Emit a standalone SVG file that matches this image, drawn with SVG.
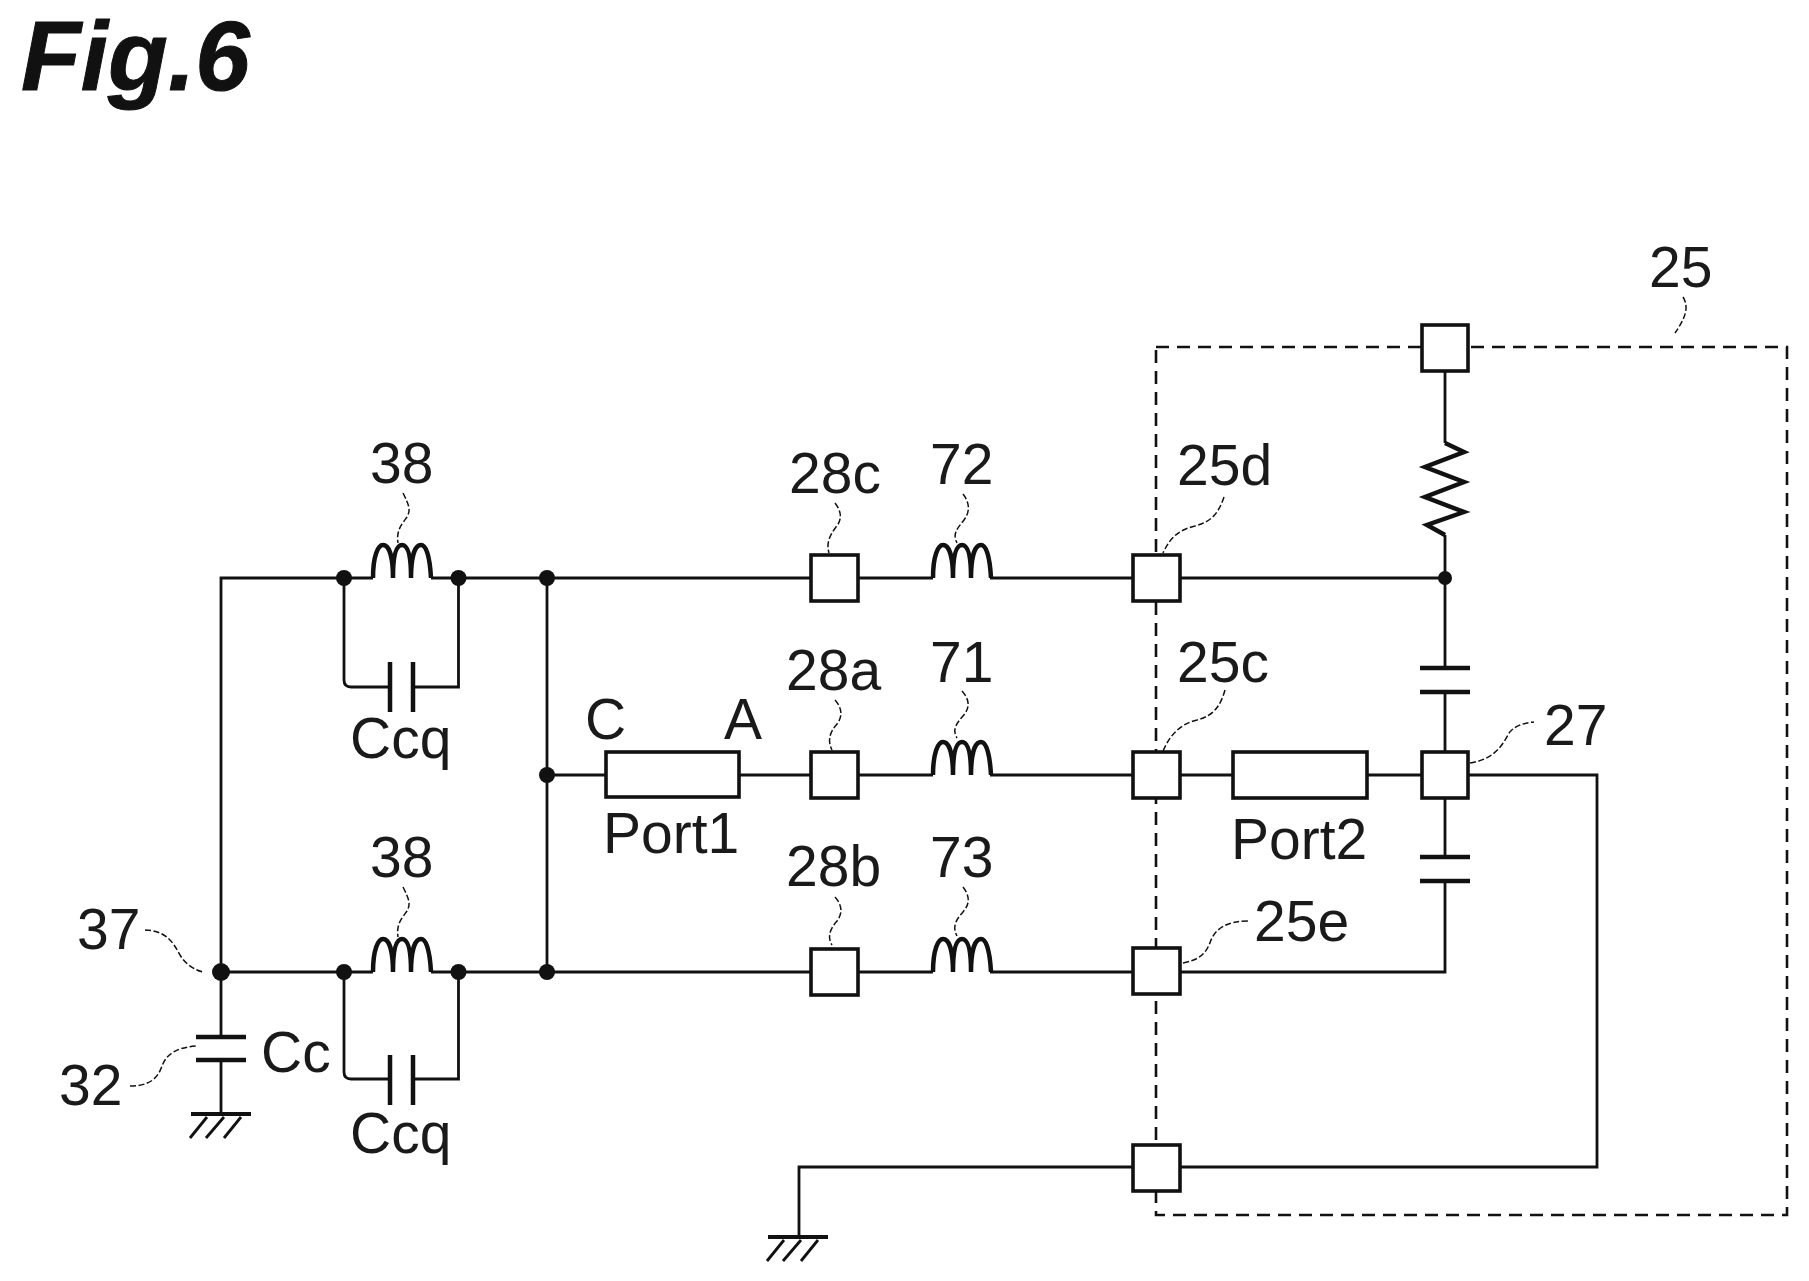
<svg xmlns="http://www.w3.org/2000/svg" xmlns:xlink="http://www.w3.org/1999/xlink" width="1809" height="1281" viewBox="0 0 1809 1281">
<style>
text{font-family:"Liberation Sans",Arial,sans-serif;font-size:57px;fill:#1a1a1a}
.title{font-weight:bold;font-style:italic;font-size:98px;fill:#111;stroke:#111;stroke-width:1}
.w{fill:none;stroke:#111;stroke-width:2.8}
.th{fill:none;stroke:#111;stroke-width:4.5}
.lead{fill:none;stroke:#111;stroke-width:1.5;stroke-dasharray:6 2.5}
.box{fill:none;stroke:#111;stroke-width:2.6;stroke-dasharray:13 8}
.term{fill:#fff;stroke:#111;stroke-width:3.6}
.dot{fill:#111}
</style>
<defs>
<path id="coil" class="th" d="M0 0C0 -22 5 -33 10 -33C17 -33 20 -18 20 0C20 -18 22 -33 29 -33C36 -33 38 -18 38 0C38 -18 41 -33 48 -33C54 -33 57 -18 58 0"/>
<g id="gnd" class="w"><path d="M-30 0H30" stroke-width="4"/><path d="M-14 3L-31 24M3 3L-15 24M20 3L3 24"/></g>
</defs>
<rect width="1809" height="1281" fill="#fff"/>
<text class="title" x="21" y="90">Fig.6</text>
<g id="enclosure-25"><rect class="box" x="1156" y="347" width="631" height="868"/><text x="1649" y="287">25</text></g>
<g id="connectors">
<path class="w" d="M373 578H221V1037M431 578H933M990 578H1445M221 972H373M431 972H933M990 972H1445V881M547 578V972M547 775H606M739 775H933M990 775H1233M1367 775H1421M1468 775H1597V1167H799V1237M1445 371V443M1445 535V668M1445 692V857M221 1060V1113"/>
<path class="w" d="M344 578V680Q344 687 351 687H390M413 687H458.5V578M344 972V1072Q344 1079 351 1079H390M413 1079H458.5V972"/>
<path class="lead" d="M403 493C409 505 411 510 407 517C402 524 396 530 398 543"/>
<path class="lead" d="M403 887C409 899 411 904 407 911C402 918 396 924 398 937"/>
<path class="lead" d="M145 930C165 931 172 940 180 955C186 965 195 970 203 972"/>
<path class="lead" d="M130 1086C150 1086 158 1078 162 1066C167 1052 180 1047 197 1046"/>
<path class="lead" d="M835 503C842 512 842 520 836 527C830 535 826 543 829 553"/>
<path class="lead" d="M963 494C970 503 970 512 964 520C958 528 952 533 957 543"/>
<path class="lead" d="M835 700C842 708 843 716 837 724C830 732 827 740 832 750"/>
<path class="lead" d="M962 691C970 700 970 708 963 716C956 724 952 730 957 738"/>
<path class="lead" d="M835 897C842 905 843 913 837 921C830 929 827 937 832 945"/>
<path class="lead" d="M963 887C970 896 970 904 963 912C956 920 952 926 957 936"/>
<path class="lead" d="M1224 497C1218 515 1210 522 1195 526C1178 530 1170 538 1163 553"/>
<path class="lead" d="M1225 690C1220 708 1212 716 1197 720C1180 724 1170 735 1163 751"/>
<path class="lead" d="M1183 963C1198 960 1206 955 1211 940C1216 928 1228 921 1248 921"/>
<path class="lead" d="M1470 763C1490 760 1500 750 1508 735C1512 727 1522 723 1534 722"/>
<path class="lead" d="M1683 297C1690 308 1684 320 1675 333"/>
</g>
<g id="node-37"><circle class="dot" cx="221" cy="972" r="9"/><text x="77" y="949">37</text></g>
<g id="junctions">
<circle class="dot" cx="344" cy="578" r="8"/><circle class="dot" cx="458.5" cy="578" r="8"/><circle class="dot" cx="547" cy="578" r="8"/><circle class="dot" cx="547" cy="775" r="8"/><circle class="dot" cx="344" cy="972" r="8"/><circle class="dot" cx="458.5" cy="972" r="8"/><circle class="dot" cx="547" cy="972" r="8"/><circle class="dot" cx="1445" cy="578" r="7"/>
</g>
<g id="inductor-38-top"><use xlink:href="#coil" href="#coil" x="373" y="578"/><text x="370" y="483">38</text></g>
<g id="inductor-38-bottom"><use xlink:href="#coil" href="#coil" x="373" y="972"/><text x="370" y="877">38</text></g>
<g id="capacitor-ccq-top"><path class="th" d="M390 662V712M413 662V712"/><text x="350" y="758">Ccq</text></g>
<g id="capacitor-ccq-bottom"><path class="th" d="M390 1055V1105M413 1055V1105"/><text x="350" y="1153">Ccq</text></g>
<g id="capacitor-32"><path class="th" d="M196 1037H246M196 1060H246"/><text x="59" y="1105">32</text><text x="261" y="1072">Cc</text></g>
<g id="ground-left"><use xlink:href="#gnd" href="#gnd" x="221" y="1114"/></g>
<g id="ground-bottom"><use xlink:href="#gnd" href="#gnd" x="798" y="1237"/></g>
<g id="port1"><rect class="term" x="606" y="752" width="133" height="45"/><text x="585" y="739">C</text><text x="724" y="739">A</text><text x="603" y="853">Port1</text></g>
<g id="port2"><rect class="term" x="1233" y="752" width="134" height="46"/><text x="1231" y="859">Port2</text></g>
<g id="terminal-28c"><rect class="term" x="811" y="555" width="47" height="46"/><text x="789" y="493">28c</text></g>
<g id="terminal-28a"><rect class="term" x="811" y="752" width="47" height="46"/><text x="786" y="690">28a</text></g>
<g id="terminal-28b"><rect class="term" x="811" y="949" width="47" height="46"/><text x="786" y="886">28b</text></g>
<g id="inductor-72"><use xlink:href="#coil" href="#coil" x="933" y="578"/><text x="930" y="484">72</text></g>
<g id="inductor-71"><use xlink:href="#coil" href="#coil" x="933" y="775"/><text x="930" y="682">71</text></g>
<g id="inductor-73"><use xlink:href="#coil" href="#coil" x="933" y="972"/><text x="930" y="877">73</text></g>
<g id="terminal-25d"><rect class="term" x="1133" y="555" width="47" height="46"/><text x="1177" y="485">25d</text></g>
<g id="terminal-25c"><rect class="term" x="1133" y="752" width="47" height="46"/><text x="1177" y="682">25c</text></g>
<g id="terminal-25e"><rect class="term" x="1133" y="948" width="47" height="46"/><text x="1254" y="941">25e</text></g>
<g id="terminal-bottom"><rect class="term" x="1133" y="1145" width="47" height="46"/></g>
<g id="terminal-top"><rect class="term" x="1422" y="325" width="46" height="46"/></g>
<g id="terminal-27"><rect class="term" x="1422" y="752" width="46" height="46"/><text x="1544" y="745">27</text></g>
<g id="resistor"><path class="th" d="M1445 443L1464 452L1425 467L1464 482L1425 497L1464 512L1427 525L1445 535"/></g>
<g id="capacitor-top-right"><path class="th" d="M1420 668H1470M1420 692H1470"/></g>
<g id="capacitor-bottom-right"><path class="th" d="M1420 857H1470M1420 881H1470"/></g>
</svg>
